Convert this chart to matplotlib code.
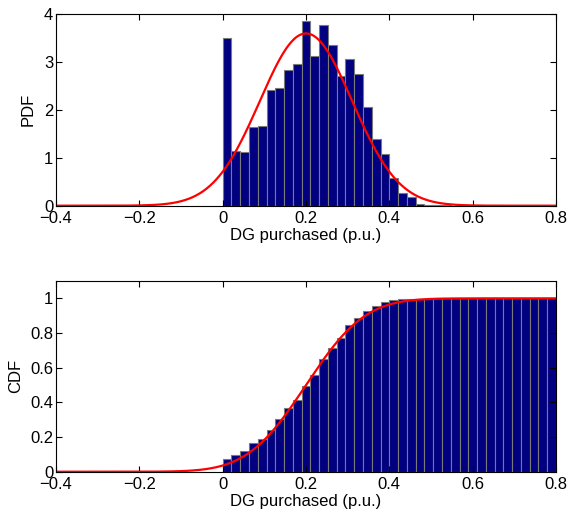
import math
import numpy as np
import matplotlib
matplotlib.use("Agg")
import matplotlib.pyplot as plt

plt.rcParams['font.family'] = ['Liberation Sans', 'DejaVu Sans']

# Histogram data (bins from 0 to 0.8, 38 equal bins)
bin_lo, bin_hi, n_bins = 0.0, 0.8, 38
pdf_heights = [3.50, 1.15, 1.11, 1.64, 1.67, 2.42, 2.45, 2.83, 2.96, 3.85,
               3.12, 3.77, 3.35, 2.71, 3.07, 2.75, 2.05, 1.39, 1.08, 0.57,
               0.26, 0.19, 0.035, 0.02, 0.014, 0.005]
cdf_heights = [0.071, 0.098, 0.117, 0.168, 0.190, 0.242, 0.305, 0.365, 0.415, 0.494,
               0.560, 0.650, 0.715, 0.772, 0.844, 0.888, 0.929, 0.958, 0.978, 0.990,
               0.996, 0.998, 0.999, 0.999, 1.0, 1.0, 1.0, 1.0, 1.0, 1.0,
               1.0, 1.0, 1.0, 1.0, 1.0, 1.0, 1.0, 1.0]

# Normal fit parameters
mu, sigma = 0.2, 0.111

x_ticks = [-0.4, -0.2, 0, 0.2, 0.4, 0.6, 0.8]
x_tick_labels = ['\u22120.4', '\u22120.2', '0', '0.2', '0.4', '0.6', '0.8']
pdf_yticks = [0, 1, 2, 3, 4]
cdf_yticks = [0, 0.2, 0.4, 0.6, 0.8, 1]
cdf_ytick_labels = ['0', '0.2', '0.4', '0.6', '0.8', '1']

width = (bin_hi - bin_lo) / n_bins
x = np.linspace(-0.4, 0.8, 600)
pdf_curve = np.exp(-(x - mu) ** 2 / (2 * sigma ** 2)) / (sigma * math.sqrt(2 * math.pi))
cdf_curve = np.array([0.5 * (1 + math.erf((v - mu) / (sigma * math.sqrt(2)))) for v in x])

fig = plt.figure(figsize=(5.67, 5.16), dpi=100)
ax1 = fig.add_axes([0.0988, 0.6014, 0.8818, 0.3715])
ax2 = fig.add_axes([0.0988, 0.0858, 0.8818, 0.3696])

bar_color = '#000080'
edge_color = '#7a7a7a'
fs = 12

def style(ax):
    ax.set_xlim(-0.4, 0.8)
    ax.set_xticks(x_ticks)
    ax.set_xticklabels(x_tick_labels)
    ax.tick_params(direction='in', length=4, width=0.8, top=True, right=True,
                   labelsize=fs)
    ax.tick_params(axis='x', pad=4)
    ax.tick_params(axis='y', pad=2)
    for s in ax.spines.values():
        s.set_linewidth(0.8)
    ax.set_xlabel('DG purchased (p.u.)', fontsize=fs, labelpad=1.5)

c1 = bin_lo + width * (np.arange(len(pdf_heights)) + 0.5)
ax1.bar(c1, pdf_heights, width=width, color=bar_color, edgecolor=edge_color, linewidth=0.8)
ax1.plot(x, pdf_curve, color='red', lw=1.6)
style(ax1)
ax1.set_ylim(0, 4)
ax1.set_yticks(pdf_yticks)
ax1.set_ylabel('PDF', fontsize=fs, labelpad=6)

c2 = bin_lo + width * (np.arange(len(cdf_heights)) + 0.5)
ax2.bar(c2, cdf_heights, width=width, color=bar_color, edgecolor=edge_color, linewidth=0.8)
ax2.plot(x, cdf_curve, color='red', lw=1.6)
style(ax2)
ax2.set_ylim(0, 1.1)
ax2.set_yticks(cdf_yticks)
ax2.set_yticklabels(cdf_ytick_labels)
ax2.set_ylabel('CDF', fontsize=fs, labelpad=5)

fig.savefig('out.png', dpi=100)
